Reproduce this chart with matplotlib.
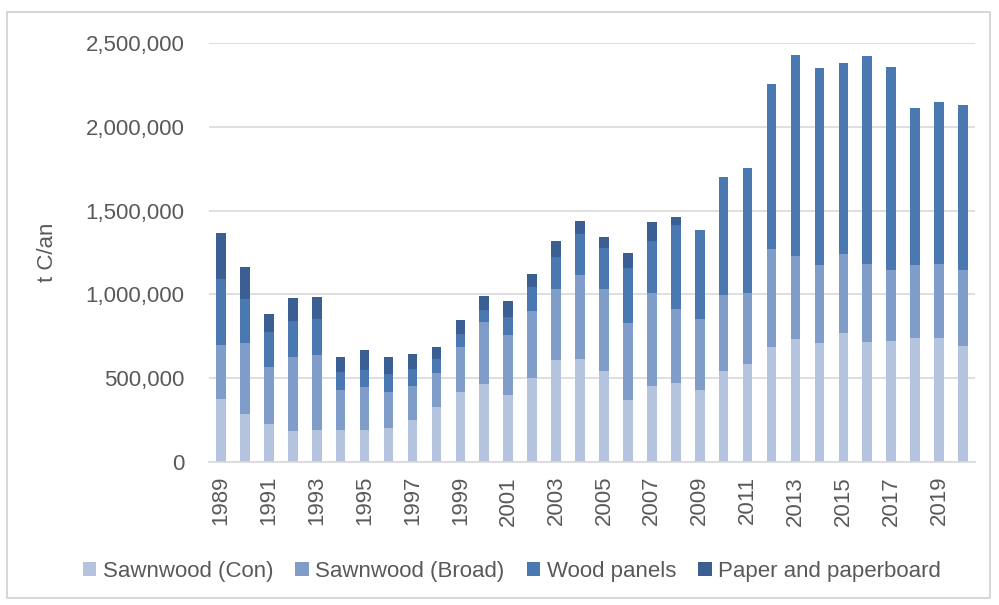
import matplotlib.pyplot as plt
import numpy as np
from matplotlib.patches import Rectangle
from matplotlib.ticker import FuncFormatter

plt.rcParams['font.family'] = ['Liberation Sans', 'DejaVu Sans']

years = list(range(1989, 2021))
# values in tonnes of carbon per year
sawn_con = [374, 286, 225, 185, 193, 193, 193, 201, 249, 326, 416, 464, 400, 501, 607, 613,
            543, 368, 455, 471, 431, 543, 583, 686, 732, 708, 771, 718, 724, 740, 740, 692]
sawn_broad = [324, 422, 340, 443, 445, 237, 255, 215, 206, 207, 270, 371, 356, 398, 427, 501,
              491, 459, 555, 444, 422, 452, 425, 585, 499, 469, 468, 465, 422, 437, 443, 454]
wood_panels = [392, 265, 213, 213, 213, 109, 101, 107, 100, 80, 76, 72, 111, 147, 191, 246,
               241, 329, 310, 499, 529, 705, 748, 984, 1199, 1174, 1144, 1239, 1213, 935, 963, 982]
paper = [274, 192, 103, 136, 133, 89, 119, 105, 87, 71, 83, 85, 95, 74, 94, 78,
         66, 91, 110, 46, 0, 0, 0, 0, 0, 0, 0, 0, 0, 0, 0, 0]

series = [("Sawnwood (Con)", sawn_con, "#b4c3de"),
          ("Sawnwood (Broad)", sawn_broad, "#809cc8"),
          ("Wood panels", wood_panels, "#4a78b0"),
          ("Paper and paperboard", paper, "#3b5f92")]

fig = plt.figure(figsize=(9.99, 6.05), dpi=100)
ax = fig.add_axes([209 / 999, 1 - 462 / 605, (975 - 209) / 999, (462 - 43) / 605])

x = np.arange(len(years))
bottom = np.zeros(len(years))
for name, vals, col in series:
    v = np.array(vals) * 1000.0
    ax.bar(x, v, 0.4, bottom=bottom, color=col, label=name, zorder=2)
    bottom += v

ax.set_xlim(-0.5, len(years) - 0.5)
ax.set_ylim(0, 2500000)
ax.set_yticks(np.arange(0, 2500001, 500000))
ax.yaxis.set_major_formatter(FuncFormatter(lambda v, p: f"{int(v):,}"))
ax.set_xticks(x[::2])
ax.set_xticklabels([str(y) for y in years[::2]], rotation=90)
ax.grid(axis='y', color='#d9d9d9', linewidth=1.2, zorder=0)
for s in ['top', 'right', 'left']:
    ax.spines[s].set_visible(False)
ax.spines['bottom'].set_color('#d9d9d9')
ax.spines['bottom'].set_linewidth(1.2)
ax.tick_params(axis='both', length=0, labelsize=16, colors='#595959')
ax.tick_params(axis='y', pad=17.5)
ax.tick_params(axis='x', pad=10)
ax.set_ylabel("t C/an", fontsize=16, color='#595959', labelpad=20)

fig.legend(loc='center', bbox_to_anchor=(512 / 999, 1 - 571 / 605), ncol=4, frameon=False,
           fontsize=16, handlelength=0.6, handleheight=0.6, handletextpad=0.3,
           columnspacing=1.0, labelcolor='#595959')

fig.patches.append(Rectangle((7 / 999, 1 - 598 / 605), 983 / 999, 586 / 605,
                             transform=fig.transFigure, fill=False,
                             edgecolor='#d0d0d0', linewidth=1.2))

fig.savefig("out.png", dpi=100)
